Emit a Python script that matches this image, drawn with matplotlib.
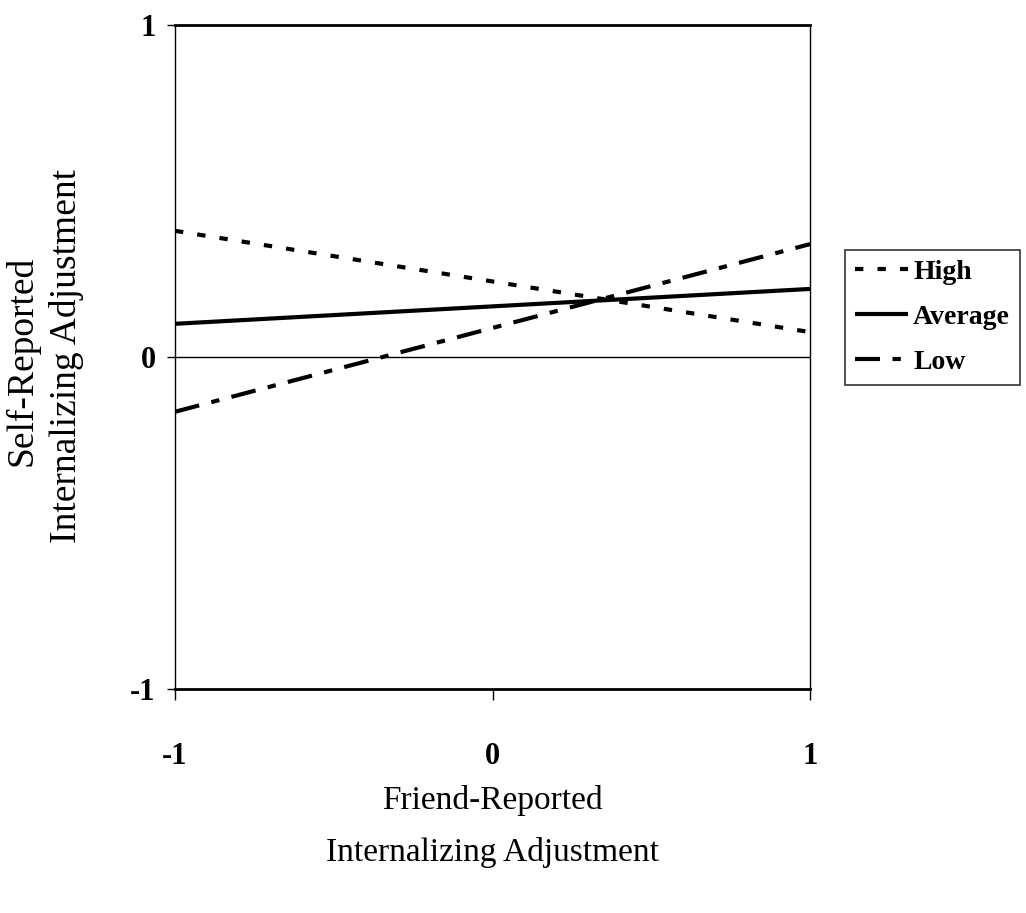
import numpy as np
import matplotlib.pyplot as plt

# friend-reported internalizing adjustment (x) at -1 SD and +1 SD
friend = [-1, 1]

# predicted self-reported adjustment, one line per moderator level
high = [0.38, 0.075]
average = [0.10, 0.205]
low = [-0.165, 0.34]

series_names = ['High', 'Average', 'Low']
x_ticks = [-1, 0, 1]
y_ticks = [-1, 0, 1]

plt.rcParams['font.family'] = ['Liberation Serif', 'DejaVu Serif']

fig = plt.figure(figsize=(10.26, 9.13), dpi=100)
ax = fig.add_axes([175/1026, 1-689/913, 635/1026, 664/913])

lw = 3.0
ax.plot(friend, high, color='black', lw=lw, linestyle=(0, (2, 3.4)),
        dash_capstyle='butt', label=series_names[0])
ax.plot(friend, average, color='black', lw=lw, linestyle='-',
        solid_capstyle='butt', label=series_names[1])
ax.plot(friend, low, color='black', lw=lw, linestyle=(0, (6, 3, 2, 3)),
        dash_capstyle='butt', label=series_names[2])

ax.axhline(0, color='black', lw=1.0, zorder=1)

ax.set_xlim(-1, 1)
ax.set_ylim(-1, 1)
ax.set_xticks(x_ticks)
ax.set_yticks(y_ticks)
ax.set_xticklabels([str(t) for t in x_ticks], fontsize=22, fontweight='bold')
ax.set_yticklabels([str(t) for t in y_ticks], fontsize=22, fontweight='bold')
ax.tick_params(axis='x', direction='out', length=8, width=1, pad=30)
ax.tick_params(axis='y', direction='out', length=6, width=1, pad=8)

ax.spines['top'].set_linewidth(2.0)
ax.spines['bottom'].set_linewidth(2.0)
ax.spines['left'].set_linewidth(1.0)
ax.spines['right'].set_linewidth(1.0)

# axis titles
fig.text(492/1026, 1-800/913, 'Friend-Reported', ha='center', va='center', fontsize=24)
fig.text(492/1026, 1-852/913, 'Internalizing Adjustment', ha='center', va='center', fontsize=24)
fig.text(22/1026, 1-361/913, 'Self-Reported', ha='center', va='center',
         rotation=90, fontsize=27)
fig.text(67/1026, 1-356/913, 'Internalizing Adjustment', ha='center', va='center',
         rotation=90, fontsize=27)

leg = fig.legend(loc='upper left', bbox_to_anchor=(845/1026, 1-250/913),
                 prop={'weight': 'bold', 'size': 20}, frameon=True, fancybox=False,
                 edgecolor='black', handlelength=1.9, handletextpad=0.2,
                 labelspacing=0.7, borderpad=0.35, borderaxespad=0)
leg.get_frame().set_linewidth(1.2)

plt.savefig('out.png', dpi=100, facecolor='white')
